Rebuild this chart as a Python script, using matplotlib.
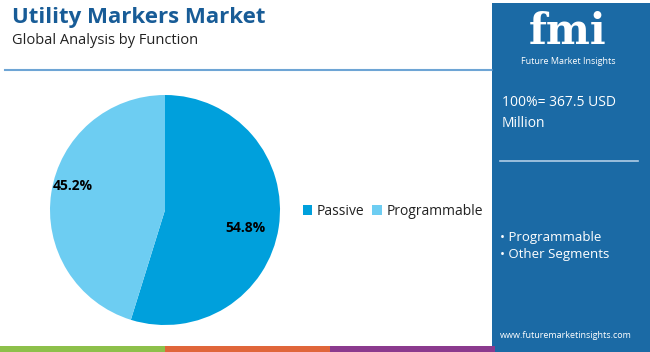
import matplotlib
matplotlib.use("Agg")
import matplotlib.pyplot as plt
from matplotlib.patches import Rectangle, Patch

categories = ["Passive", "Programmable"]
values = [54.8, 45.2]
colors = ["#00A0DC", "#6DCDF2"]
title = "Utility Markers Market"
subtitle = "Global Analysis by Function"
total_text = "100%= 367.5 USD\nMillion"
segments = ["• Programmable", "• Other Segments"]

W, H = 650, 352
fig = plt.figure(figsize=(W/100, H/100), dpi=100)
plt.rcParams['font.family'] = ['Open Sans', 'DejaVu Sans']

def px(x, y):
    return x / W, 1 - y / H

# Right panel
fig.patches.append(Rectangle(px(492, 346), (650-492)/W, (346-3)/H, transform=fig.transFigure,
                             facecolor="#1B6AA5", edgecolor="none", zorder=0))
# bottom strips
strip_cols = ["#8DC04A", "#E0663A", "#8B3A8E", "#1B6AA5"]
xs = [0, 165, 330, 495, 650]
for i, c in enumerate(strip_cols):
    fig.patches.append(Rectangle(px(xs[i], 352), (xs[i+1]-xs[i])/W, 6/H, transform=fig.transFigure,
                                 facecolor=c, edgecolor="none", zorder=1))
# header line
fig.add_artist(plt.Line2D([5/W, 492/W], [1-70/H, 1-70/H], color="#4A8FCB", lw=1.5, alpha=0.8))

fig.text(*px(12, 18), title, fontsize=16, fontweight="bold", color="#185C97", va="center", ha="left")
fig.text(*px(12, 41), subtitle, fontsize=10.5, color="#222222", va="center", ha="left")

# Pie
ax = fig.add_axes([(165-115)/W, 1-(210+115)/H, 230/W, 230/H])
wedges, _ = ax.pie(values, colors=colors, startangle=90, counterclock=False,
                   wedgeprops=dict(linewidth=0))
ax.set_xlim(-1, 1)
ax.set_ylim(-1, 1)
ax.set_aspect("equal")
ax.text(0.70, -0.16, f"{values[0]}%", fontsize=10, fontweight="bold", ha="center", va="center")
ax.text(-0.80, 0.21, f"{values[1]}%", fontsize=10, fontweight="bold", ha="center", va="center")

handles = [Patch(facecolor=c, edgecolor="none") for c in colors]
fig.legend(handles, categories, loc="center left", bbox_to_anchor=px(290, 211), frameon=False,
           ncol=2, fontsize=10, handlelength=0.7, handleheight=0.7, handletextpad=0.3,
           columnspacing=0.6, labelcolor="#222222")

# Logo
fig.text(*px(568, 32), "fmi", fontsize=30, fontweight="bold", color="white", ha="center", va="center",
         family=["DejaVu Serif"])
fig.text(*px(568, 61), "Future Market Insights", fontsize=6.5, color="white", ha="center", va="center")

fig.text(*px(502, 113), total_text, fontsize=10, color="white", ha="left", va="center", linespacing=1.6)
fig.add_artist(plt.Line2D([500/W, 638/W], [1-161/H, 1-161/H], color="#B0CDE6", lw=1.2))
fig.text(*px(500, 246), "\n".join(segments), fontsize=9.5, color="white", ha="left", va="center",
         linespacing=1.45)
fig.text(*px(566, 336), "www.futuremarketinsights.com", fontsize=6.5, color="white", ha="center", va="center")

fig.savefig("out.png", dpi=100)
